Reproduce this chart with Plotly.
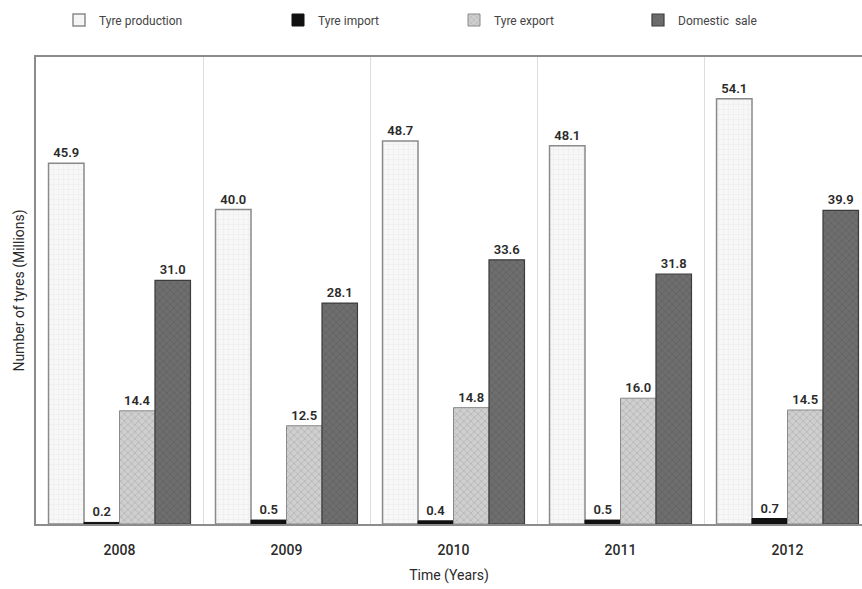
import plotly.graph_objects as go

years = ["2008", "2009", "2010", "2011", "2012"]
production = [45.9, 40.0, 48.7, 48.1, 54.1]
imports = [0.2, 0.5, 0.4, 0.5, 0.7]
exports = [14.4, 12.5, 14.8, 16.0, 14.5]
domestic = [31.0, 28.1, 33.6, 31.8, 39.9]

FONT = "Roboto, Arial, sans-serif"

W, H = 862, 589
L, R, T, B = 36, 0, 57, 65
plot_w = W - L - R
plot_h = H - T - B
cat_px = 167  # width of one year group in pixels


def px_x(px):
    return (px - L) / plot_w


def px_y(py):
    return (H - B - py) / plot_h


series = [
    dict(name="Tyre production", y=production, legend="legend",
         marker=dict(color="#f7f7f7", line=dict(color="#8a8a8a", width=1.5),
                     pattern=dict(shape="+", fgcolor="#d4d4d4", bgcolor="#f7f7f7",
                                  size=5, solidity=0.15)),
         lx=59),
    dict(name="Tyre import", y=imports, legend="legend2",
         marker=dict(color="#111111", line=dict(color="#111111", width=1)),
         lx=278),
    dict(name="Tyre export", y=exports, legend="legend3",
         marker=dict(color="#c4c4c4", line=dict(color="#8a8a8a", width=1),
                     pattern=dict(shape="x", fgcolor="#8f8f8f", bgcolor="#cfcfcf",
                                  size=5, solidity=0.25)),
         lx=454),
    dict(name="Domestic  sale", y=domestic, legend="legend4",
         marker=dict(color="#666666", line=dict(color="#3c3c3c", width=1.2),
                     pattern=dict(shape="x", fgcolor="#555555", bgcolor="#6e6e6e",
                                  size=5, solidity=0.3)),
         lx=638),
]

fig = go.Figure()
for s in series:
    fig.add_trace(go.Bar(
        x=years, y=s["y"], name=s["name"], legend=s["legend"],
        marker=s["marker"],
        text=[f"{v:.1f}" for v in s["y"]], textposition="outside",
        textfont=dict(family=FONT, size=13, color="#2a2a2a", weight=600),
        cliponaxis=False,
    ))

legend_common = dict(orientation="h", yanchor="middle", xanchor="left",
                     font=dict(family=FONT, size=12, color="#444444"),
                     bgcolor="rgba(0,0,0,0)", itemwidth=30)
layout_legends = {}
for i, s in enumerate(series):
    key = "legend" if i == 0 else f"legend{i + 1}"
    layout_legends[key] = dict(legend_common, x=px_x(s["lx"]), y=px_y(20))

fig.update_layout(
    width=W, height=H,
    margin=dict(l=L, r=R, t=T, b=B),
    paper_bgcolor="white", plot_bgcolor="white",
    barmode="group", bargap=0.15, bargroupgap=0,
    showlegend=True,
    font=dict(family=FONT, color="#333333"),
    **layout_legends,
)

fig.update_xaxes(
    range=[-0.5, -0.5 + plot_w / cat_px],
    showgrid=True, gridcolor="#dddddd", gridwidth=1, tickson="boundaries",
    showline=True, linecolor="#8c8c8c", linewidth=1.5, mirror=True,
    ticks="", ticklabelstandoff=12,
    tickfont=dict(family=FONT, size=14, color="#2a2a2a", weight=500),
    title=dict(text="Time (Years)", font=dict(family=FONT, size=14, color="#2a2a2a"),
               standoff=14),
)
fig.update_yaxes(
    range=[0, 59.4], showticklabels=False, showgrid=False, zeroline=False,
    showline=True, linecolor="#8c8c8c", linewidth=1.5, ticks="",
    title=dict(text="Number of tyres (Millions)",
               font=dict(family=FONT, size=14, color="#2a2a2a"), standoff=6),
)

fig.write_html("out.html")
